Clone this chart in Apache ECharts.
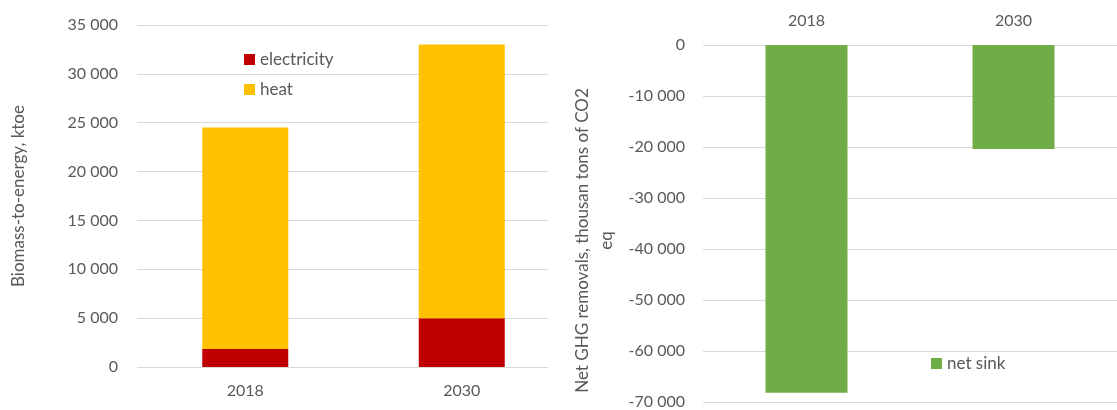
<!DOCTYPE html>
<html>
<head>
<meta charset="utf-8">
<script src="https://cdn.jsdelivr.net/npm/echarts@6/dist/echarts.min.js"></script>
<style>
html,body{margin:0;padding:0;background:#fff;}
#c{width:1117px;height:410px;}
</style>
</head>
<body>
<div id="c"></div>
<script>
const years = ['2018', '2030'];
const electricity = [1850, 5000];
const heat = [22650, 28000];
const netSink = [-68200, -20400];
const leftTicks = {min: 0, max: 35000, interval: 5000};
const rightTicks = {min: -70000, max: 0, interval: 10000};

const FONT = 'Lato';
const TXT = '#595959';
const GRID = '#D9D9D9';
const fmt = v => {
  const s = String(Math.abs(v)).replace(/\B(?=(\d{3})+(?!\d))/g, ' ');
  return (v < 0 ? '-' : '') + s;
};

const chart = echarts.init(document.getElementById('c'), null, {renderer: 'canvas'});
chart.setOption({
  animation: false,
  backgroundColor: '#ffffff',
  textStyle: {fontFamily: FONT, color: TXT},
  grid: [
    {left: 137, top: 25, width: 433, height: 342},
    {left: 703, top: 45, width: 421, height: 357}
  ],
  legend: [
    {
      data: ['electricity', 'heat'],
      orient: 'vertical',
      left: 239, top: 46,
      itemWidth: 11, itemHeight: 11, itemGap: 13,
      icon: 'rect',
      textStyle: {fontFamily: FONT, fontSize: 17, color: TXT, padding: [0, 0, 0, 0]}
    },
    {
      data: ['net sink'],
      left: 926, top: 350,
      itemWidth: 11, itemHeight: 11,
      icon: 'rect',
      textStyle: {fontFamily: FONT, fontSize: 17, color: TXT, padding: [0, 0, 0, 0]}
    }
  ],
  xAxis: [
    {
      type: 'category', gridIndex: 0, data: years,
      axisLine: {show: false}, axisTick: {show: false},
      axisLabel: {fontFamily: FONT, fontSize: 16, color: TXT, margin: 16}
    },
    {
      type: 'category', gridIndex: 1, data: years, position: 'top',
      axisLine: {show: false}, axisTick: {show: false},
      axisLabel: {fontFamily: FONT, fontSize: 16, color: TXT, margin: 16}
    }
  ],
  yAxis: [
    {
      type: 'value', gridIndex: 0,
      min: leftTicks.min, max: leftTicks.max, interval: leftTicks.interval,
      name: 'Biomass-to-energy, ktoe',
      nameLocation: 'middle', nameRotate: 90, nameGap: 108,
      nameTextStyle: {fontFamily: FONT, fontSize: 17, color: TXT, lineHeight: 21},
      axisLine: {show: false}, axisTick: {show: false},
      axisLabel: {fontFamily: FONT, fontSize: 16, color: TXT, margin: 19, formatter: fmt},
      splitLine: {lineStyle: {color: GRID, width: 1}}
    },
    {
      type: 'value', gridIndex: 1,
      min: rightTicks.min, max: rightTicks.max, interval: rightTicks.interval,
      name: 'Net GHG removals, thousan tons of CO2\neq',
      nameLocation: 'middle', nameRotate: 90, nameGap: 84,
      nameTextStyle: {fontFamily: FONT, fontSize: 17, color: TXT, lineHeight: 24, padding: [0, 34, 0, 0]},
      axisLine: {show: false}, axisTick: {show: false},
      axisLabel: {fontFamily: FONT, fontSize: 16, color: TXT, margin: 18, formatter: fmt},
      splitLine: {lineStyle: {color: GRID, width: 1}}
    }
  ],
  graphic: [
    {type: 'rect', shape: {x: 548, y: 10, width: 24, height: 365}, style: {fill: '#ffffff'}, z: 100, silent: true}
  ],
  series: [
    {
      name: 'electricity', type: 'bar', stack: 'a', xAxisIndex: 0, yAxisIndex: 0,
      data: electricity, barWidth: 86, itemStyle: {color: '#C00000'}
    },
    {
      name: 'heat', type: 'bar', stack: 'a', xAxisIndex: 0, yAxisIndex: 0,
      data: heat, barWidth: 86, itemStyle: {color: '#FFC000'}
    },
    {
      name: 'net sink', type: 'bar', xAxisIndex: 1, yAxisIndex: 1,
      data: netSink, barWidth: 82, itemStyle: {color: '#70AD47'}
    }
  ]
});
</script>
</body>
</html>
